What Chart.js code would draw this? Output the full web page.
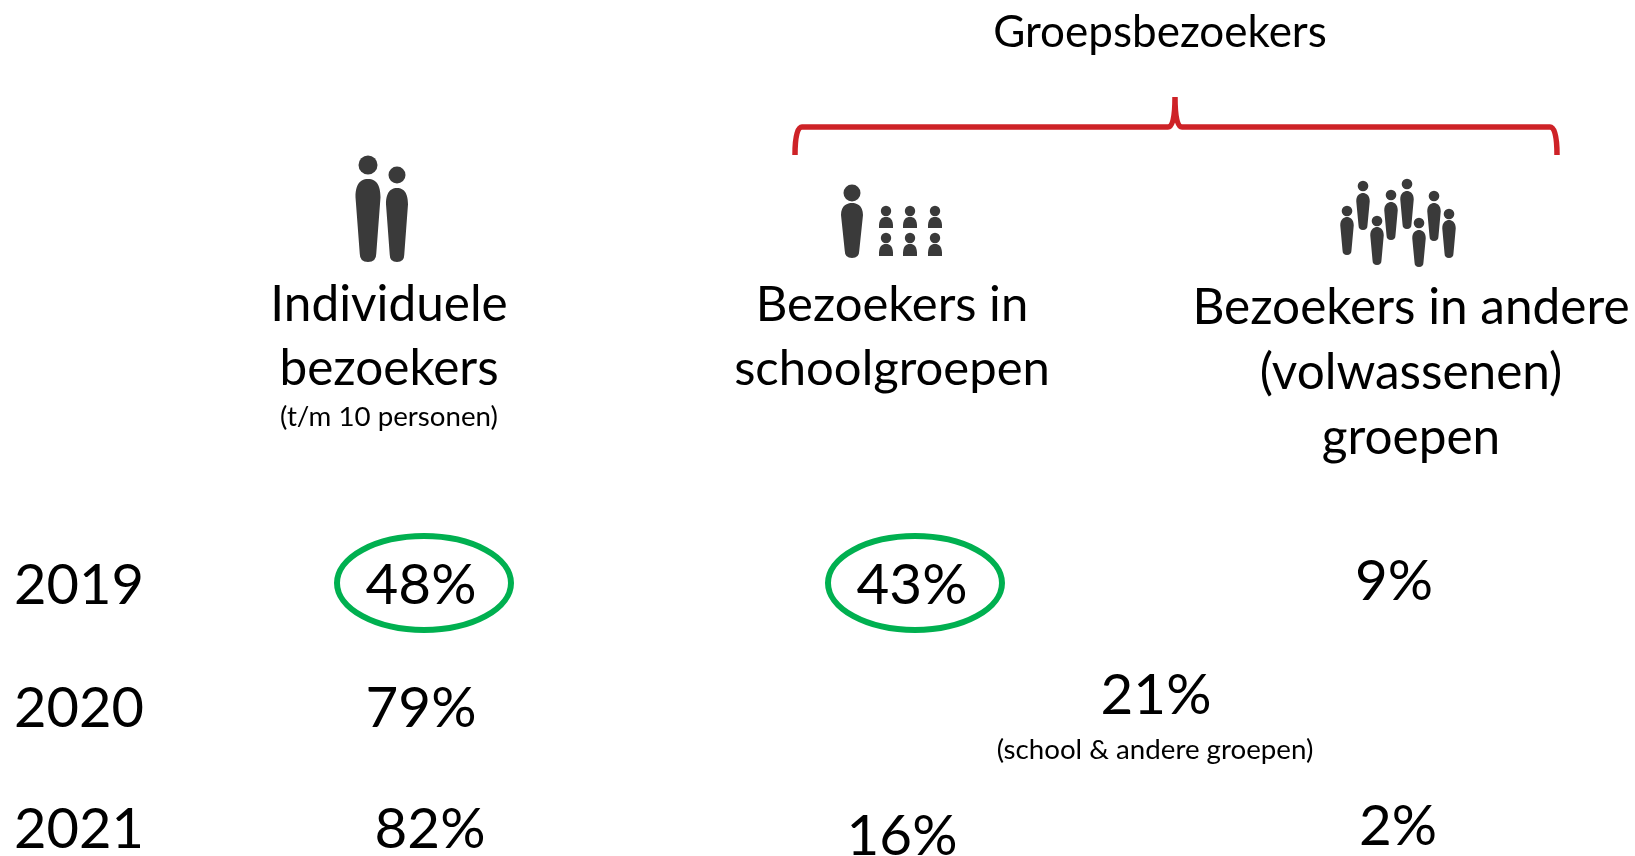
<!DOCTYPE html>
<html>
<head>
<meta charset="utf-8">
<title>Bezoekers</title>
<script src="https://cdn.jsdelivr.net/npm/chart.js@4"></script>
<style>
    html, body { margin: 0; padding: 0; background: #fff; overflow: hidden; }
    canvas { display: block; }
</style>
</head>
<body>
<canvas id="visitorsChart" width="1635" height="856"></canvas>
<script>
// Values
const years = ['2019', '2020', '2021'];
const individueel = [48, 79, 82];
const school = [43, null, 16];
const andere = [9, null, 2];
const gecombineerd = [null, 21, null];
const highlighted = [[0, 0], [1, 0]]; // [series, year] pairs with a green ring

const groupTitle = 'Groepsbezoekers';
const headIndividueel = ['Individuele', 'bezoekers'];
const subIndividueel = '(t/m 10 personen)';
const headSchool = ['Bezoekers in', 'schoolgroepen'];
const headAndere = ['Bezoekers in andere', '(volwassenen)', 'groepen'];
const subGecombineerd = '(school & andere groepen)';

// Layout of the sheet, in sheet units (axes run over the whole canvas)
const font = 'Lato, "Open Sans", sans-serif';
const columnX = [[421, 421, 430], [912, null, 902], [1394, null, 1398], [null, 1156, null]];
const rowY = [[586, 709, 830], [586, null, 837], [582, null, 827], [null, 696, null]];

function person(ctx, x, headY, r, top, bottom, w) {
    ctx.beginPath();
    ctx.arc(x, headY, r, 0, Math.PI * 2);
    ctx.fill();
    const shoulder = top + (bottom - top) * 0.22;
    const foot = w * 0.33;
    ctx.beginPath();
    ctx.moveTo(x - w / 2, shoulder);
    ctx.bezierCurveTo(x - w / 2, top + 2, x - w * 0.2, top, x, top);
    ctx.bezierCurveTo(x + w * 0.2, top, x + w / 2, top + 2, x + w / 2, shoulder);
    ctx.lineTo(x + foot, bottom - foot);
    ctx.quadraticCurveTo(x + foot, bottom, x, bottom);
    ctx.quadraticCurveTo(x - foot, bottom, x - foot, bottom - foot);
    ctx.closePath();
    ctx.fill();
}

function bust(ctx, x, headY, top, bottom) {
    ctx.beginPath();
    ctx.arc(x, headY, 5.2, 0, Math.PI * 2);
    ctx.fill();
    ctx.beginPath();
    ctx.moveTo(x - 7, bottom);
    ctx.bezierCurveTo(x - 7.5, top + 2, x - 4, top, x, top);
    ctx.bezierCurveTo(x + 4, top, x + 7.5, top + 2, x + 7, bottom);
    ctx.closePath();
    ctx.fill();
}

// Everything that is not a plain point: texts, icons, brace and rings
const sheetPlugin = {
    id: 'sheet',
    afterDatasetsDraw(chart) {
        const ctx = chart.ctx;
        const sx = v => chart.scales.x.getPixelForValue(v);
        const sy = v => chart.scales.y.getPixelForValue(v);

        function text(str, x, y, size, align) {
            ctx.font = size + 'px ' + font;
            ctx.textAlign = align || 'center';
            ctx.textBaseline = 'middle';
            ctx.fillStyle = '#000';
            ctx.fillText(str, sx(x), sy(y));
        }

        ctx.save();

        text(groupTitle, 1160, 33, 44);
        headIndividueel.forEach((t, i) => text(t, 389, 305 + i * 64, 49.5));
        text(subIndividueel, 389, 417, 27.7);
        headSchool.forEach((t, i) => text(t, 892, 305 + i * 64, 49));
        headAndere.forEach((t, i) => text(t, 1411, 308 + i * 65, 49.5));
        text(subGecombineerd, 1155, 750, 27.7);

        years.forEach((y, i) => text(y, 14, rowY[0][i], 56, 'left'));

        // value labels sit on the dataset points
        chart.data.datasets.forEach((ds, d) => {
            ds.data.forEach((p, i) => {
                if (p.v !== null) text(p.v + '%', p.x, p.y, 56.5);
            });
        });

        // green rings
        ctx.strokeStyle = '#00B050';
        ctx.lineWidth = 6;
        highlighted.forEach(([d, i]) => {
            const p = chart.data.datasets[d].data[i];
            ctx.beginPath();
            ctx.ellipse(sx(p.x + 3), sy(p.y - 3), 87, 47, 0, 0, Math.PI * 2);
            ctx.stroke();
        });

        // red brace
        ctx.strokeStyle = '#CE2227';
        ctx.lineWidth = 5.5;
        ctx.beginPath();
        ctx.moveTo(sx(795), sy(155));
        ctx.quadraticCurveTo(sx(795), sy(127), sx(802), sy(127));
        ctx.lineTo(sx(1168), sy(127));
        ctx.quadraticCurveTo(sx(1175), sy(127), sx(1175), sy(97));
        ctx.quadraticCurveTo(sx(1175), sy(127), sx(1182), sy(127));
        ctx.lineTo(sx(1550), sy(127));
        ctx.quadraticCurveTo(sx(1557), sy(127), sx(1557), sy(155));
        ctx.stroke();

        // people icons
        ctx.fillStyle = '#3A3A3A';
        person(ctx, 368, 165, 9.5, 179, 262, 25);
        person(ctx, 397, 175, 8.5, 188, 262, 22);
        person(ctx, 852, 193, 8.5, 203, 258, 22);
        [886, 910, 935].forEach(x => {
            bust(ctx, x, 211, 217, 228);
            bust(ctx, x, 238, 244, 256);
        });
        const crowd = [
            [1347, 211, 217, 255], [1363, 186, 193, 230], [1377, 221, 227, 265],
            [1391, 195, 202, 240], [1407, 184, 191, 229], [1419, 223, 230, 267],
            [1434, 196, 203, 241], [1449, 214, 220, 258]
        ];
        crowd.forEach(c => person(ctx, c[0], c[1], 5.3, c[2], c[3], 13.5));

        ctx.restore();
    }
};

function points(values, col) {
    return values.map((v, i) => ({ x: columnX[col][i], y: rowY[col][i], v: v }));
}

new Chart(document.getElementById('visitorsChart').getContext('2d'), {
    type: 'scatter',
    data: {
        datasets: [
            { label: 'Individuele bezoekers', data: points(individueel, 0), pointRadius: 0 },
            { label: 'Bezoekers in schoolgroepen', data: points(school, 1), pointRadius: 0 },
            { label: 'Bezoekers in andere groepen', data: points(andere, 2), pointRadius: 0 },
            { label: 'School & andere groepen', data: points(gecombineerd, 3), pointRadius: 0 }
        ]
    },
    options: {
        responsive: false,
        animation: false,
        layout: { padding: 0 },
        plugins: { legend: { display: false }, tooltip: { enabled: false } },
        scales: {
            x: { type: 'linear', min: 0, max: 1635, display: false },
            y: { type: 'linear', min: 0, max: 856, reverse: true, display: false }
        }
    },
    plugins: [sheetPlugin]
});
</script>
</body>
</html>
